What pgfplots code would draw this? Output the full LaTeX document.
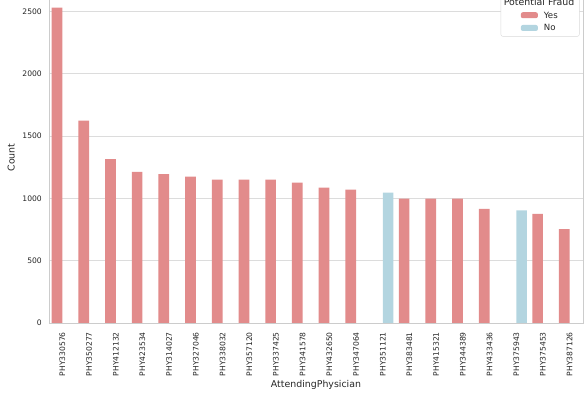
\documentclass[border=0pt]{standalone}
\usepackage{fontspec}
\setmainfont{DejaVu Sans}
\usepackage{pgfplots}
\usepackage{pgfplotstable}
\pgfplotsset{compat=1.18}
\definecolor{yescol}{RGB}{226,139,139}
\definecolor{nocol}{RGB}{179,213,224}
\definecolor{gridc}{RGB}{220,220,220}
\definecolor{spinec}{RGB}{204,204,204}
\definecolor{txt}{RGB}{38,38,38}

\pgfplotstableread{
x y
0 2531
1 1624
2 1316
3 1214
4 1196
5 1174
6 1150
7 1150
8 1150
9 1126
10 1086
11 1070
13 998
14 998
15 998
16 917
18 875
19 754
}\yesdata
\pgfplotstableread{
x y
12 1046
17 904
}\nodata

\begin{document}
\begin{tikzpicture}
\begin{axis}[
  name=ax,
  scale only axis,
  width=534pt, height=331pt,
  xmin=-0.5, xmax=19.5,
  ymin=0, ymax=2657,
  ybar, bar width=0.4, bar shift=0pt,
  font=\fontsize{7.6}{9}\selectfont,
  /pgf/number format/assume math mode=true,
  /pgf/number format/1000 sep={},
  xtick={0,...,19},
  xticklabels={PHY330576,PHY350277,PHY412132,PHY423534,PHY314027,PHY327046,PHY338032,PHY357120,PHY337425,PHY341578,PHY432650,PHY347064,PHY351121,PHY383481,PHY415321,PHY344389,PHY433436,PHY375943,PHY375453,PHY387126},
  ytick={0,500,1000,1500,2000,2500},
  major tick length=0pt,
  xticklabel style={rotate=90, anchor=east, inner sep=0pt, text=txt},
  yticklabel style={anchor=east, inner sep=0pt, text=txt},
  xticklabel shift=9pt,
  yticklabel shift=7pt,
  ymajorgrids, grid style={gridc, line width=0.8pt},
  axis line style={spinec, line width=0.8pt},
  every axis x label/.style={at={(axis description cs:0.5,0)}, anchor=north, yshift=-54pt, text=txt, font=\fontsize{9.4}{11}\selectfont},
  every axis y label/.style={at={(axis description cs:0,0.5)}, xshift=-34pt, rotate=90, anchor=south, inner sep=0pt, text=txt, font=\fontsize{9.4}{11}\selectfont},
  xlabel={AttendingPhysician},
  ylabel={Count},
  legend cell align=left,
  legend style={at={(rel axis cs:1,1)}, anchor=north east, xshift=-3.5pt, yshift=-2pt,
    draw=black!15, fill=white, rounded corners=2pt, text=txt, inner xsep=3pt,
    font=\fontsize{8.6}{10}\selectfont, row sep=1pt},
]
\addlegendimage{empty legend}
\addlegendentry{\hspace*{-40pt}\fontsize{9.4}{11}\selectfont Potential Fraud}
\addplot[fill=yescol, draw=none,
  legend image code/.code={\path (-17pt,0pt) (21pt,0pt); \fill[yescol] (0pt,-2.5pt) rectangle (17pt,3.5pt);}]
  table[x expr=\thisrow{x}-0.2, y=y] {\yesdata};
\addlegendentry{Yes}
\addplot[fill=nocol, draw=none,
  legend image code/.code={\path (-17pt,0pt) (21pt,0pt); \fill[nocol] (0pt,-2.5pt) rectangle (17pt,3.5pt);}]
  table[x expr=\thisrow{x}+0.2, y=y] {\nodata};
\addlegendentry{No}
\end{axis}
\pgfresetboundingbox
\useasboundingbox ([xshift=-49pt,yshift=-72pt]ax.south west) rectangle ++(588pt,395pt);
\end{tikzpicture}
\end{document}
